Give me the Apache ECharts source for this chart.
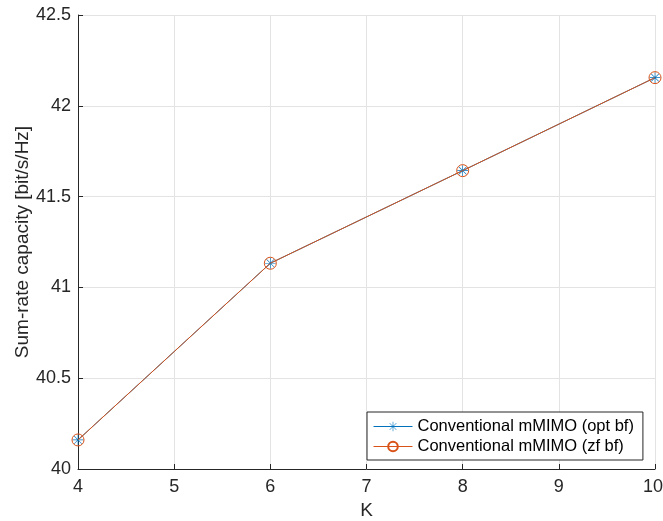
<!DOCTYPE html>
<html>
<head>
<meta charset="utf-8">
<script src="https://cdn.jsdelivr.net/npm/echarts@6/dist/echarts.min.js"></script>
<style>html,body{margin:0;padding:0;background:#fff;}#c{width:663px;height:521px;}</style>
</head>
<body>
<div id="c"></div>
<script>
var K = [4, 6, 8, 10];
var optBf = [40.16, 41.133, 41.643, 42.155];
var zfBf = [40.16, 41.133, 41.643, 42.155];
var seriesNames = ['Conventional mMIMO (opt bf)', 'Conventional mMIMO (zf bf)'];
var xTicks = [4, 5, 6, 7, 8, 9, 10];
var yTicks = [40, 40.5, 41, 41.5, 42, 42.5];

var asterisk = 'path://M0 9.4 L20 9.4 L20 10.6 L0 10.6 Z M9.4 0 L10.6 0 L10.6 20 L9.4 20 Z M2.5 3.3 L3.3 2.5 L17.5 16.7 L16.7 17.5 Z M16.7 2.5 L17.5 3.3 L3.3 17.5 L2.5 16.7 Z';
var font = 'Liberation Sans, Arial, Helvetica, sans-serif';
var txt = '#262626';

var chart = echarts.init(document.getElementById('c'), null, {renderer: 'canvas'});
chart.setOption({
  backgroundColor: '#fff',
  animation: false,
  textStyle: {fontFamily: font},
  grid: {left: 78, right: 8, top: 15, bottom: 52, containLabel: false, outerBoundsMode: 'none'},
  legend: {
    orient: 'vertical',
    left: 367, top: 412,
    backgroundColor: '#fff',
    borderColor: txt, borderWidth: 1, borderRadius: 0,
    padding: [6, 9, 5, 6],
    itemGap: 3,
    itemWidth: 39, itemHeight: 12,
    lineStyle: {width: 1},
    textStyle: {fontSize: 16.5, color: '#000', fontFamily: font},
    data: seriesNames
  },
  xAxis: {
    type: 'value', min: 4, max: 10, interval: 1,
    name: 'K', nameLocation: 'middle', nameGap: 32, nameMoveOverlap: false,
    nameTextStyle: {fontSize: 19, color: txt, fontFamily: font},
    axisLine: {show: true, lineStyle: {color: txt, width: 1}},
    axisTick: {show: true, inside: true, length: 5, lineStyle: {color: txt}},
    axisLabel: {fontSize: 18, color: txt, margin: 9, fontFamily: font,
      formatter: function (v) {
        if (xTicks.indexOf(v) < 0) return '';
        return v === 10 ? '{r|' + v + '}' : String(v);
      },
      rich: {r: {fontSize: 18, color: txt, fontFamily: font, padding: [0, 4, 0, 0]}}},
    splitLine: {show: true, lineStyle: {color: '#e3e3e3', width: 1}}
  },
  yAxis: {
    type: 'value', min: 40, max: 42.5, interval: 0.5,
    name: 'Sum-rate capacity [bit/s/Hz]', nameLocation: 'middle', nameGap: 46, nameMoveOverlap: false,
    nameTextStyle: {fontSize: 19, color: txt, fontFamily: font},
    axisLine: {show: true, lineStyle: {color: txt, width: 1}},
    axisTick: {show: true, inside: true, length: 5, lineStyle: {color: txt}},
    axisLabel: {fontSize: 18, color: txt, margin: 7, fontFamily: font,
      formatter: function (v) { return yTicks.indexOf(v) >= 0 ? String(v) : ''; }},
    splitLine: {show: true, lineStyle: {color: '#e3e3e3', width: 1}}
  },
  series: [
    {
      name: seriesNames[0], type: 'line',
      data: K.map(function (k, i) { return [k, optBf[i]]; }),
      symbol: asterisk, symbolSize: 11, showAllSymbol: true,
      itemStyle: {color: '#0072BD', borderWidth: 0},
      lineStyle: {color: '#0072BD', width: 1},
      z: 2
    },
    {
      name: seriesNames[1], type: 'line',
      data: K.map(function (k, i) { return [k, zfBf[i]]; }),
      symbol: 'circle', symbolSize: 12, showAllSymbol: true,
      itemStyle: {color: 'rgba(0,0,0,0)', borderColor: '#D95319', borderWidth: 1},
      lineStyle: {color: '#D95319', width: 1},
      z: 3
    }
  ]
});
</script>
</body>
</html>
